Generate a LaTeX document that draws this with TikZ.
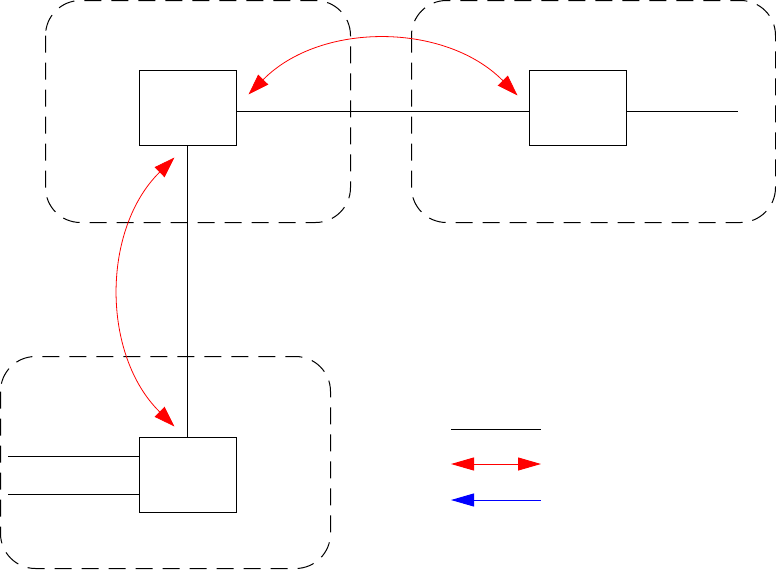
\documentclass[tikz,border=0pt]{standalone}
\usetikzlibrary{arrows.meta,calc}
\begin{document}
\begin{tikzpicture}[x=1pt,y=-1pt,
  region/.style={draw=black,line width=1pt,dash pattern=on 17pt off 10pt,rounded corners=35pt},
  unit/.style={draw=black,line width=1pt,minimum width=97pt,minimum height=75pt,inner sep=0pt},
  wire/.style={draw=black,line width=1pt},
  redarc/.style={draw=red,line width=0.8pt,{Triangle[length=21pt,width=14pt]}-{Triangle[length=21pt,width=14pt]}},
  redleg/.style={draw=red,line width=1pt,{Triangle[length=23pt,width=13pt]}-{Triangle[length=23pt,width=13pt]}},
  blueleg/.style={draw=blue,line width=1pt,{Triangle[length=23pt,width=13pt]}-},
]
\useasboundingbox (0,0) rectangle (776,570);
% dashed regions
\draw[region] (45.5,0.5) rectangle (350.5,222.5);
\draw[region] (411.5,0.5) rectangle (775.5,222.5);
\draw[region] (0.5,356.5) rectangle (330.5,568.5);
% units
\node[unit] (b1) at (187.5,107.5) {};
\node[unit] (b2) at (577.5,107.5) {};
\node[unit] (b3) at (187.5,474.5) {};
% wires
\coordinate (r1) at (738,111);
\coordinate (l1) at (8,456);
\coordinate (l2) at (8,494);
\draw[wire] (b1.east |- r1) -- (b2.west |- r1);
\draw[wire] (b2.east |- r1) -- (r1);
\draw[wire] (b1.south) -- (b3.north);
\draw[wire] (l1) -- (l1 -| b3.west);
\draw[wire] (l2) -- (l2 -| b3.west);
% red arcs
\coordinate (t1) at ($(b1.north east)+(12,25)$);
\coordinate (t2) at ($(b2.north west)+(-11,26)$);
\coordinate (v1) at ($(b1.south west)+(36,12)$);
\coordinate (v2) at ($(b3.north west)+(36,-10)$);
\draw[redarc] (t1) .. controls ($(t1)+(72,-73)$) and ($(t2)+(-72,-73)$) .. (t2);
\draw[redarc] (v1) .. controls ($(v1)+(-73,72)$) and ($(v2)+(-73,-72)$) .. (v2);
% legend
\coordinate (la) at (451,429);
\coordinate (lb) at (541,429);
\coordinate (lc) at (451,464);
\coordinate (ld) at (541,464);
\coordinate (le) at (451,500);
\coordinate (lf) at (541,500);
\draw[wire] (la) -- (lb);
\draw[redleg] (lc) -- (ld);
\draw[blueleg] (le) -- (lf);
\end{tikzpicture}
\end{document}
